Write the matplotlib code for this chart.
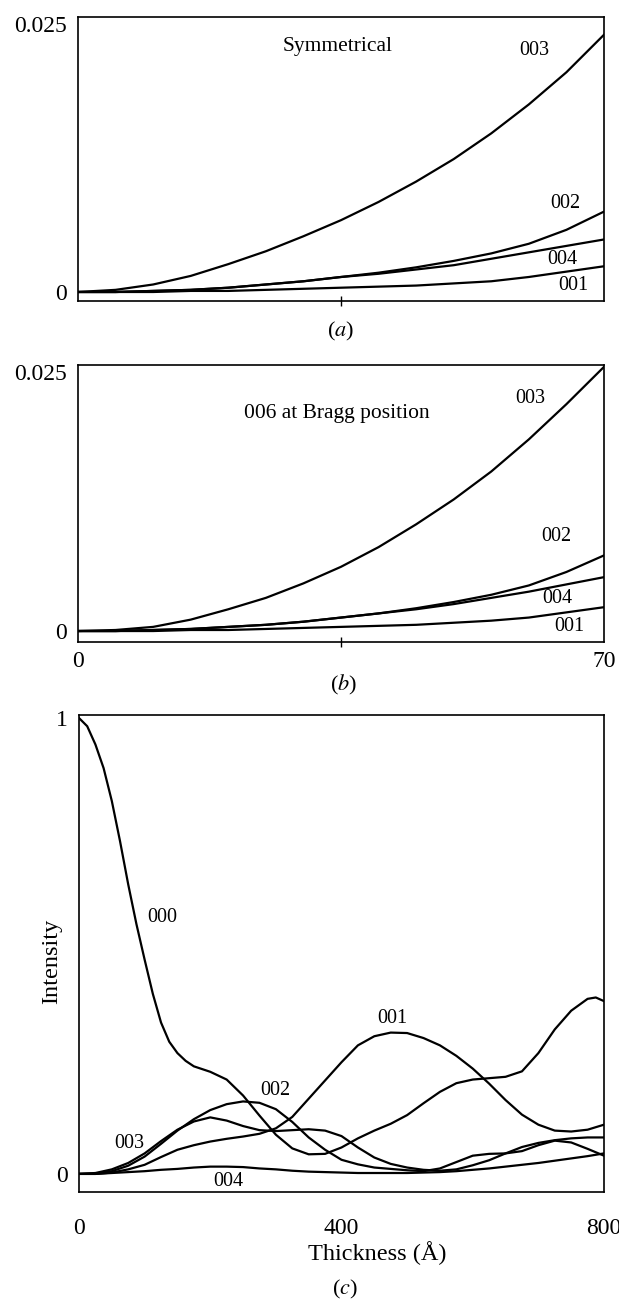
import matplotlib
matplotlib.use("Agg")
import matplotlib.pyplot as plt
from matplotlib.ticker import FixedLocator

plt.rcParams['font.family'] = ['Liberation Serif', 'DejaVu Serif']
plt.rcParams['mathtext.fontset'] = 'stix'

# --- panels (a) and (b): small thickness range, 0..70 ---
x_small = [0, 5, 10, 15, 20, 25, 30, 35, 40, 45, 50, 55, 60, 65, 70]

sym_003 = [0, 0.0002, 0.0007, 0.0015, 0.0026, 0.0038, 0.0052, 0.0067, 0.0084, 0.0103, 0.0124, 0.0148, 0.0175, 0.0205, 0.0240]
sym_002 = [0, 0, 0.0001, 0.0002, 0.0004, 0.0007, 0.0010, 0.0014, 0.0018, 0.0023, 0.0029, 0.0036, 0.0045, 0.0058, 0.0075]
sym_004 = [0, 0, 0.0001, 0.0002, 0.0004, 0.0007, 0.0010, 0.0014, 0.0017, 0.0021, 0.0025, 0.0031, 0.0037, 0.0043, 0.0049]
sym_001 = [0, 0, 0, 0.0001, 0.0001, 0.0002, 0.0003, 0.0004, 0.0005, 0.0006, 0.0008, 0.0010, 0.0014, 0.0019, 0.0024]

bragg_003 = [0, 0.0001, 0.0004, 0.0011, 0.0021, 0.0032, 0.0046, 0.0062, 0.0081, 0.0103, 0.0127, 0.0154, 0.0185, 0.0219, 0.0255]
bragg_002 = [0, 0, 0.0001, 0.0002, 0.0004, 0.0006, 0.0009, 0.0013, 0.0017, 0.0022, 0.0028, 0.0035, 0.0044, 0.0057, 0.0073]
bragg_004 = [0, 0, 0.0001, 0.0002, 0.0004, 0.0006, 0.0009, 0.0013, 0.0017, 0.0021, 0.0026, 0.0032, 0.0038, 0.0045, 0.0052]
bragg_001 = [0, 0, 0, 0.0001, 0.0001, 0.0002, 0.0003, 0.0004, 0.0005, 0.0006, 0.0008, 0.0010, 0.0013, 0.0018, 0.0023]

# --- panel (c): thickness 0..800 A ---
thickness = [0, 25, 50, 75, 100, 125, 150, 175, 200, 225, 250, 275, 300, 325, 350, 375, 400,
             425, 450, 475, 500, 525, 550, 575, 600, 625, 650, 675, 700, 725, 750, 775, 800]

# 000 falls fast at the start, so it gets a finer grid there
thickness_000 = [0, 12.5, 25, 37.5, 50, 62.5, 75, 87.5, 100, 112.5, 125, 137.5, 150, 162.5, 175,
                 200, 225, 250, 275, 300, 325, 350, 375, 400, 425, 450, 475, 500, 525, 550, 575,
                 600, 625, 650, 675, 700, 725, 750, 775, 787.5, 800]
i_000 = [1.000, 0.982, 0.942, 0.890, 0.818, 0.730, 0.635, 0.548, 0.470, 0.395, 0.332, 0.290, 0.265,
         0.248, 0.236, 0.224, 0.207, 0.172, 0.128, 0.086, 0.056, 0.043, 0.044, 0.058, 0.078, 0.095,
         0.110, 0.129, 0.155, 0.180, 0.199, 0.207, 0.210, 0.213, 0.225, 0.265, 0.317, 0.358, 0.384,
         0.387, 0.379]
i_001 = [0, 0.000, 0.003, 0.010, 0.020, 0.037, 0.053, 0.063, 0.071, 0.077, 0.082, 0.088, 0.100,
         0.125, 0.165, 0.205, 0.245, 0.282, 0.302, 0.310, 0.309, 0.298, 0.282, 0.259, 0.231, 0.198,
         0.162, 0.130, 0.108, 0.095, 0.093, 0.097, 0.108]
i_002 = [0, 0.001, 0.006, 0.018, 0.038, 0.066, 0.095, 0.120, 0.140, 0.153, 0.159, 0.156, 0.142,
         0.114, 0.080, 0.053, 0.031, 0.021, 0.014, 0.011, 0.008, 0.006, 0.012, 0.026, 0.040, 0.044,
         0.045, 0.050, 0.063, 0.073, 0.069, 0.055, 0.040]
i_003 = [0, 0.002, 0.010, 0.024, 0.045, 0.072, 0.097, 0.115, 0.124, 0.117, 0.105, 0.096, 0.094,
         0.096, 0.098, 0.095, 0.083, 0.058, 0.036, 0.022, 0.014, 0.009, 0.007, 0.010, 0.019, 0.030,
         0.045, 0.059, 0.068, 0.074, 0.078, 0.080, 0.080]
i_004 = [0, 0.000, 0.002, 0.004, 0.006, 0.009, 0.011, 0.014, 0.016, 0.016, 0.015, 0.012, 0.010,
         0.007, 0.005, 0.004, 0.003, 0.002, 0.002, 0.002, 0.002, 0.003, 0.004, 0.006, 0.009, 0.012,
         0.016, 0.020, 0.024, 0.029, 0.034, 0.039, 0.045]

W, H = 619, 1302
fig = plt.figure(figsize=(W / 100, H / 100), dpi=100)


def px_axes(left, top, right, bottom):
    return fig.add_axes([left / W, 1 - bottom / H, (right - left) / W, (bottom - top) / H])


LW = 1.6
TICK_FS = 17
LAB_FS = 14.5
NOTE_FS = 15.5


def style(ax):
    for s in ax.spines.values():
        s.set_linewidth(1.2)
    ax.tick_params(axis='both', which='major', length=0, labelsize=TICK_FS)
    ax.tick_params(axis='y', pad=8)
    ax.tick_params(axis='x', which='minor', direction='inout', length=7, width=1.0)


def small_panel(ax, curves, ylim, note, show_x):
    for y in curves:
        ax.plot(x_small, y, color='black', lw=LW)
    ax.set_xlim(0, 70)
    ax.set_ylim(*ylim)
    ax.set_yticks([0, 0.025], ['0', '0.025'])
    ax.xaxis.set_minor_locator(FixedLocator([35]))
    if show_x:
        ax.set_xticks([0, 70], ['0', '70'])
        ax.tick_params(axis='x', pad=7)
    else:
        ax.set_xticks([])
    style(ax)
    ax.text(34.5, note[1], note[0], fontsize=NOTE_FS, ha='center', va='center')


# (a)
ax_a = px_axes(78, 16.5, 604, 301)
small_panel(ax_a, [sym_003, sym_002, sym_004, sym_001], (-0.00084, 0.0257), ('Symmetrical', 0.0229), False)
for txt, x, y in [('003', 60.7, 0.0225), ('002', 64.9, 0.0083), ('004', 64.4, 0.0030), ('001', 65.9, 0.00065)]:
    ax_a.text(x, y, txt, fontsize=LAB_FS, ha='center', va='center')

# (b)
ax_b = px_axes(78, 365.5, 604, 641.7)
small_panel(ax_b, [bragg_003, bragg_002, bragg_004, bragg_001], (-0.00103, 0.02563), ('006 at Bragg position', 0.0210), True)
for txt, x, y in [('003', 60.2, 0.0224), ('002', 63.6, 0.0091), ('004', 63.8, 0.0031), ('001', 65.4, 0.0004)]:
    ax_b.text(x, y, txt, fontsize=LAB_FS, ha='center', va='center')

# (c)
ax_c = px_axes(79, 715, 604, 1191.7)
ax_c.plot(thickness_000, i_000, color='black', lw=LW)
for y in [i_001, i_002, i_003, i_004]:
    ax_c.plot(thickness, y, color='black', lw=LW)
ax_c.set_xlim(0, 800)
ax_c.set_ylim(-0.039, 1.0066)
ax_c.set_yticks([0, 1], ['0', '1'])
ax_c.set_xticks([0, 400, 800], ['0', '400', '800'])
ax_c.xaxis.set_minor_locator(FixedLocator([400]))
style(ax_c)
ax_c.tick_params(axis='x', pad=19)
for txt, x, y in [('000', 127, 0.562), ('001', 477, 0.341), ('002', 299, 0.184),
                  ('003', 76, 0.066), ('004', 227, -0.017)]:
    ax_c.text(x, y, txt, fontsize=LAB_FS, ha='center', va='center')

fig.text(377 / W, 1 - 1253.5 / H, 'Thickness (Å)', fontsize=17.5, ha='center', va='center')
fig.text(51.5 / W, 1 - 961 / H, 'Intensity', fontsize=17.5, rotation=90, ha='center', va='center')

for lab, x, y in [('a', 341, 331.7), ('b', 344, 685), ('c', 345, 1289)]:
    fig.text(x / W, 1 - y / H, '(' + r'$\it{' + lab + '}$' + ')', fontsize=16, ha='center', va='center')

fig.savefig('out.png', dpi=100)
